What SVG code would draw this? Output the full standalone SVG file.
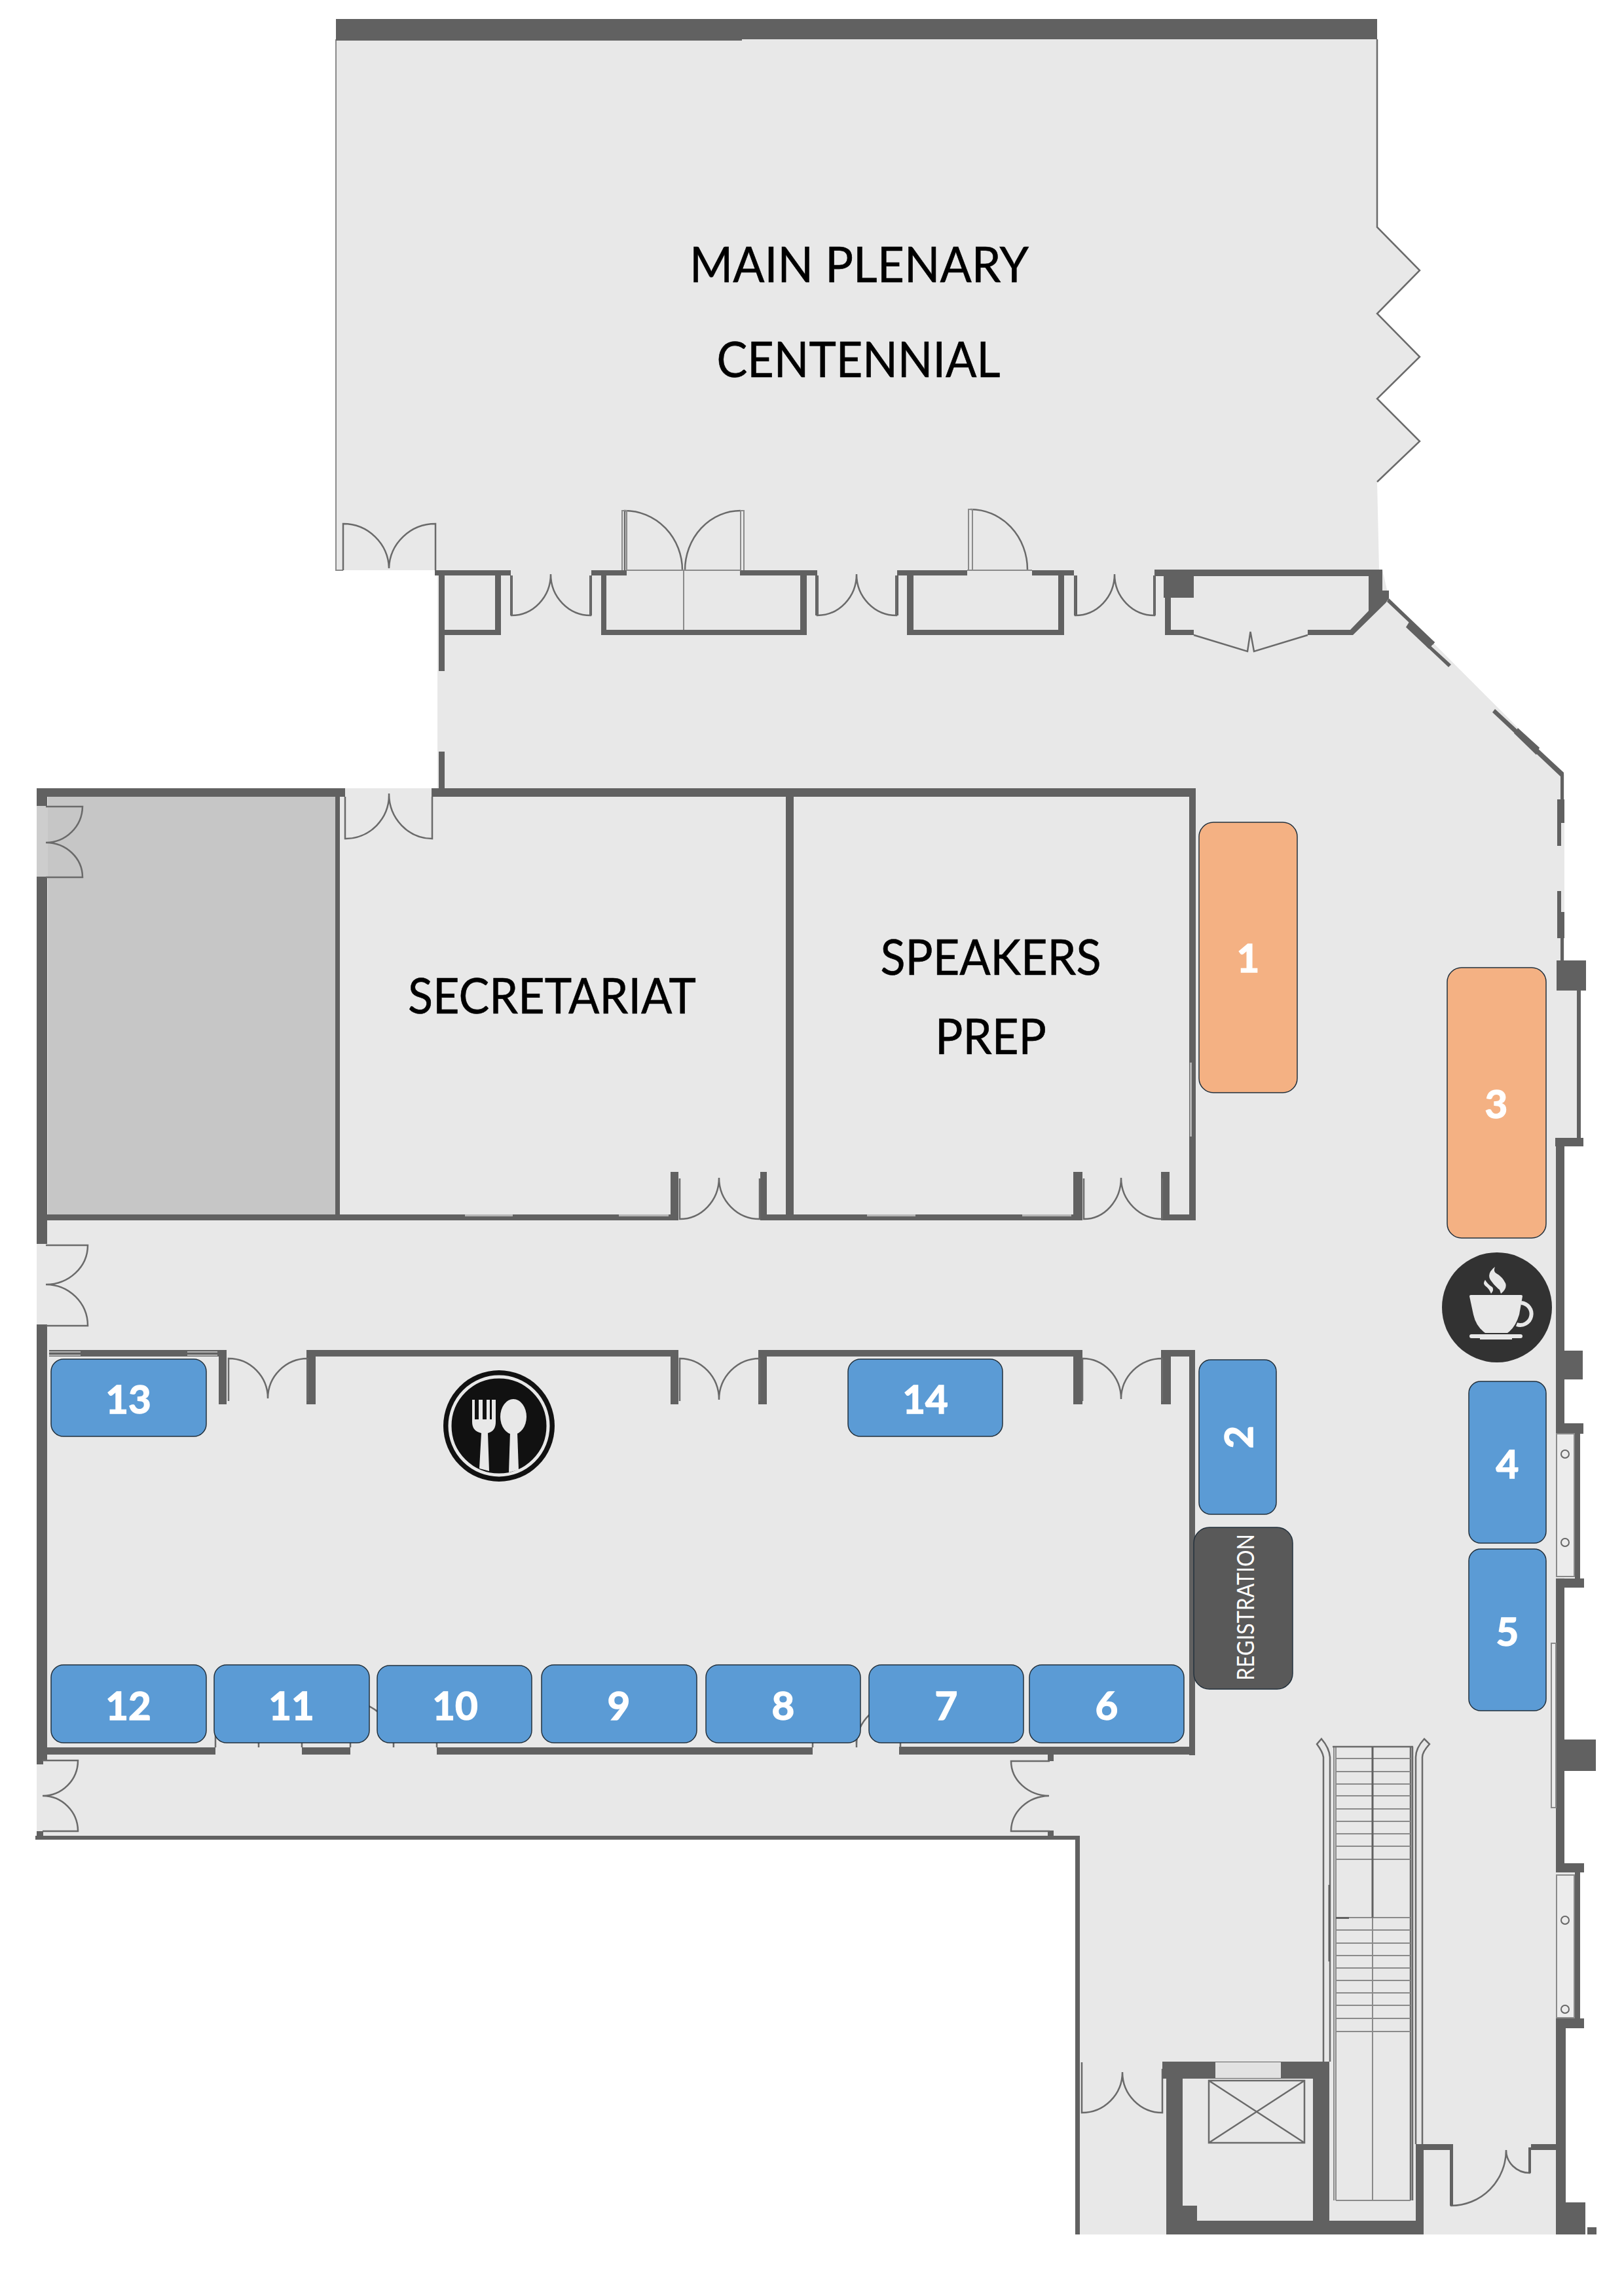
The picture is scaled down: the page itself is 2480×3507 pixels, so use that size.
<svg xmlns="http://www.w3.org/2000/svg" width="2480" height="3507" viewBox="0 0 2480 3507">
<defs>
<style>
.w{fill:#616161}
.t{fill:none;stroke:#6a6a6a;stroke-width:2.5}
.l{fill:none;stroke:#8a8a8a;stroke-width:2}
.win{fill:#b4b4b4}
.niche{fill:#ececec;stroke:#8a8a8a;stroke-width:2}
.blue{fill:#5B9BD5;stroke:#22303c;stroke-width:1.5}
.orange{fill:#F4B183;stroke:#22303c;stroke-width:1.5}
.num{font-family:"Lato","Open Sans",sans-serif;font-weight:700;font-size:60px;fill:#fff;stroke:#fff;stroke-width:1.5;text-anchor:middle}
.room{font-family:"Lato","Open Sans",sans-serif;font-size:76px;fill:#000;stroke:#000;stroke-width:.6;text-anchor:middle}
.ico{fill:#e8e8e8}
</style>
</defs>
<rect width="2480" height="3507" fill="#fff"/>
<g id="floor">
<polygon fill="#E8E8E8" points="513,31 2103,31 2103,347 2168,413 2103,479 2168,545 2103,609 2168,674 2103,736 2106,870 2111,870 2121,914 2389,1183 2389,1467 2410,1513 2410,1740 2389,1740 2389,2190 2407,2190 2407,2410 2389,2410 2389,2860 2407,2860 2407,3083 2389,3083 2389,3413 1649,3413 1649,2806 56,2806 56,1204 668,1204 668,871 513,871"/>
<rect x="73" y="1217" width="439" height="638" fill="#C6C6C6"/>
<rect x="56" y="1231" width="17" height="108" fill="#cdcdcd"/>
</g>
<g id="outline">
<path class="l" d="M513 60V871H524"/>
<polyline class="t" points="2103,60 2103,347 2168,413 2103,479 2168,545 2103,609 2168,674 2103,736"/>
</g>
<g id="walls" class="w">
<rect x="513" y="29" width="1590" height="31"/><rect x="513" y="60" width="620" height="2"/>
<rect x="664" y="871" width="116" height="8"/><rect x="670" y="879" width="9" height="146"/><rect x="670" y="1148" width="9" height="56"/>
<rect x="670" y="962" width="95" height="8"/><rect x="756" y="879" width="9" height="91"/>
<rect x="903" y="871" width="54" height="8"/><rect x="918" y="879" width="8" height="91"/><rect x="918" y="962" width="314" height="8"/>
<rect x="1222" y="879" width="10" height="91"/><rect x="1130" y="871" width="118" height="8"/>
<rect x="1370" y="871" width="107" height="8"/><rect x="1385" y="879" width="10" height="91"/><rect x="1385" y="962" width="240" height="8"/><rect x="1616" y="879" width="9" height="91"/><rect x="1576" y="871" width="64" height="8"/>
<rect x="1763" y="870" width="348" height="10"/><rect x="1777" y="880" width="46" height="33"/><rect x="1779" y="880" width="9" height="90"/><rect x="1779" y="962" width="44" height="8"/>
<rect x="1997" y="962" width="69" height="8"/>
<g transform="translate(2 0)">
<polygon points="2088,880 2109,880 2109,902 2119,902 2119,914 2114,921 2064,970 2060,962 2088,933"/>
<!-- diagonal -->
<polygon points="2119,914 2189,981 2186,985 2116,919"/>
<polygon points="2150,950 2189,981 2180,991 2145,958"/>
<polygon points="2180,984 2214,1015 2210,1019 2176,987"/>
<polygon points="2281,1083 2386,1180 2386,1186 2381,1186 2277,1088"/>
<polygon points="2316,1112 2349,1142 2344,1153 2310,1120"/>
<!-- east wall -->
<rect x="2381" y="1182" width="5" height="39"/><rect x="2376" y="1221" width="11" height="36"/><rect x="2376" y="1257" width="6" height="35"/>
<rect x="2376" y="1361" width="6" height="32"/><rect x="2376" y="1393" width="11" height="40"/><rect x="2381" y="1433" width="5" height="34"/>
<rect x="2375" y="1467" width="45" height="46"/><rect x="2406" y="1513" width="6" height="227"/><rect x="2373" y="1738" width="43" height="13"/>
<rect x="2374" y="1751" width="13" height="423"/><rect x="2387" y="2063" width="28" height="44"/><rect x="2374" y="2174" width="42" height="16"/>
<rect x="2403" y="2190" width="8" height="222"/><rect x="2374" y="2411" width="43" height="14"/><rect x="2374" y="2425" width="13" height="421"/>
<rect x="2387" y="2657" width="48" height="48"/><rect x="2374" y="2846" width="43" height="14"/><rect x="2403" y="2860" width="8" height="223"/>
<rect x="2374" y="3083" width="43" height="15"/><rect x="2374" y="3098" width="15" height="266"/><rect x="2374" y="3364" width="45" height="49"/><rect x="2422" y="3402" width="14" height="11"/>
</g>
<rect x="779" y="879" width="4" height="61"/><rect x="900" y="879" width="4" height="61"/><rect x="1245" y="879" width="5" height="61"/><rect x="1367" y="879" width="5" height="61"/><rect x="1640" y="879" width="5" height="61"/><rect x="1761" y="879" width="4" height="61"/>
<!-- west block -->
<rect x="56" y="1204" width="471" height="13"/><rect x="659" y="1204" width="1167" height="13"/>
<rect x="512" y="1217" width="7" height="638"/><rect x="56" y="1339" width="16" height="561"/><rect x="56" y="1204" width="16" height="27"/>
<rect x="56" y="1855" width="980" height="9"/><rect x="1024" y="1790" width="12" height="74"/><rect x="1161" y="1790" width="10" height="74"/><rect x="1162" y="1855" width="491" height="9"/>
<rect x="1200" y="1217" width="12" height="647"/><rect x="1639" y="1790" width="14" height="74"/><rect x="1773" y="1790" width="13" height="74"/><rect x="1773" y="1855" width="53" height="9"/><rect x="1816" y="1217" width="10" height="647"/>
<rect x="56" y="2023" width="16" height="666"/>
<rect x="75" y="2062" width="269" height="10"/><rect x="334" y="2062" width="12" height="83"/><rect x="468" y="2062" width="14" height="83"/><rect x="473" y="2062" width="561" height="10"/>
<rect x="1024" y="2062" width="12" height="83"/><rect x="1158" y="2062" width="13" height="83"/><rect x="1163" y="2062" width="486" height="10"/><rect x="1639" y="2062" width="14" height="83"/><rect x="1773" y="2062" width="15" height="83"/><rect x="1778" y="2062" width="47" height="10"/><rect x="1816" y="2062" width="9" height="619"/>
<rect x="56" y="2669" width="273" height="11"/><rect x="461" y="2669" width="74" height="11"/><rect x="667" y="2669" width="574" height="11"/><rect x="1373" y="2668" width="452" height="12"/>
<rect x="1600" y="2680" width="9" height="10"/><rect x="1600" y="2796" width="9" height="10"/><rect x="56" y="2689" width="10" height="6"/><rect x="56" y="2797" width="10" height="9"/>
<rect x="54" y="2804" width="1595" height="6"/><rect x="1642" y="2804" width="7" height="609"/>
</g>
<g id="windows" class="win">
<rect x="710" y="1855" width="73" height="3"/><rect x="945" y="1855" width="76" height="3"/><rect x="1324" y="1855" width="74" height="3"/><rect x="1561" y="1855" width="75" height="3"/>
<rect x="75" y="2064" width="48" height="2"/><rect x="75" y="2069" width="48" height="2"/><rect x="286" y="2064" width="46" height="2"/><rect x="286" y="2069" width="46" height="2"/>
<rect x="1817" y="1623" width="3" height="113"/>
</g>
<g id="doors">
<path class="t" d="M524 871V800A70 70 0 0 1 594 868M665 871V800A71 70 0 0 0 594 868"/>
<path class="t" d="M781 879V940A60 63 0 0 0 841 877M902 879V940A61 63 0 0 1 841 877"/>
<path class="t" d="M954 871V780A88 91 0 0 1 1042 871M1131 780A85 91 0 0 0 1046 871"/>
<path class="l" d="M950 871V780H957V871M1131 871V780H1136V871M957 871H1131M1044 871V962"/>
<path class="t" d="M1248 879V940A60 63 0 0 0 1308 877M1369 879V940A61 63 0 0 1 1308 877"/>
<path class="t" d="M1482 778A87 92 0 0 1 1569 870"/>
<path class="l" d="M1479 871V778H1485V871M1477 871H1576"/>
<path class="t" d="M1642 879V940A60 63 0 0 0 1702 877M1763 879V940A61 63 0 0 1 1702 877"/>
<path class="t" d="M1823 970L1905 995L1909.5 965L1915 995L1997 970"/>
<path class="t" d="M527 1217V1281A66 67 0 0 0 594 1212M660 1217V1281A66 69 0 0 1 594 1212"/>
<path class="t" d="M70 1232H126A56 56 0 0 1 70 1287M70 1340H126A56 53 0 0 0 70 1287"/>
<path class="t" d="M70 1902H134A64 60 0 0 1 70 1962M70 2025H134A64 63 0 0 0 70 1962"/>
<path class="t" d="M65 2689H119A54 54 0 0 1 65 2743M65 2797H119A54 54 0 0 0 65 2743"/>
<path class="t" d="M1603 2690H1544A59 53 0 0 0 1602 2743M1603 2797H1544A59 54 0 0 1 1602 2743"/>
<path class="t" d="M1038 1800V1862A60 63 0 0 0 1098 1799M1160 1800V1862A62 63 0 0 1 1098 1799"/>
<path class="t" d="M1655 1800V1862A57 63 0 0 0 1712 1799M1775 1800V1862A63 63 0 0 1 1712 1799"/>
<path class="t" d="M349 2140V2075A60 61 0 0 1 409 2136M470 2140V2075A61 61 0 0 0 409 2136"/>
<path class="t" d="M1038 2140V2075A60 63 0 0 1 1098 2138M1160 2140V2075A62 63 0 0 0 1098 2138"/>
<path class="t" d="M1653 2140V2075A59 62 0 0 1 1712 2137M1775 2140V2075A63 62 0 0 0 1712 2137"/>
<path class="t" d="M1652 3150V3227A62 62 0 0 0 1714 3165M1775 3160V3227A61 62 0 0 1 1714 3165"/>
<path class="t" d="M2216 3290V3369A84 85 0 0 0 2300 3284M2336 3284V3319A36 35 0 0 1 2300 3284"/>
<path class="t" d="M329 2669V2600A66 65 0 0 1 395 2665V2669M461 2669V2600A66 65 0 0 0 395 2665"/>
<path class="t" d="M535 2669V2600A66 65 0 0 1 601 2665V2669M667 2669V2600A66 65 0 0 0 601 2665"/>
<path class="t" d="M1241 2669V2600A67 65 0 0 1 1308 2665V2669M1375 2669V2600A67 65 0 0 0 1308 2665"/>
</g>
<g id="stairs-and-core">
<path class="t" d="M2021 3149V2684Q2020 2676 2011 2664L2018 2656Q2030 2670 2031 2684V3149"/>
<path class="t" d="M2172 3275V2684Q2172 2676 2183 2664L2175 2656Q2162 2670 2162 2684V3275"/>
<path class="l" d="M2037 2668V3361M2040 2668V3361"/>
<path class="t" d="M2035 2668H2158M2154 2668V3361M2157 2668V3361"/>
<path class="l" d="M2040 2686H2154M2040 2706H2154M2040 2725H2154M2040 2743H2154M2040 2763H2154M2040 2782H2154M2040 2801H2154M2040 2820H2154M2040 2840H2154M2040 2929H2154M2040 2948H2154M2040 2968H2154M2040 2987H2154M2040 3006H2154M2040 3025H2154M2040 3044H2154M2040 3063H2154M2040 3083H2154M2040 3103H2154"/>
<path d="M2096 2668V2929" fill="none" stroke="#616161" stroke-width="3"/>
<path class="l" d="M2096 2929V3361M2040 3361H2154"/>
<path d="M2030 2879V2996" fill="none" stroke="#616161" stroke-width="3"/>
<path class="w" d="M2040 2928H2060V2931H2040Z"/>
<g class="w">
<rect x="1781" y="3149" width="25" height="264"/><rect x="1775" y="3149" width="255" height="26"/><rect x="2005" y="3149" width="25" height="264"/><rect x="1781" y="3392" width="393" height="21"/><rect x="1806" y="3369" width="22" height="23"/><rect x="2162" y="3275" width="12" height="138"/><rect x="2162" y="3275" width="52" height="9"/><rect x="2214" y="3275" width="5" height="94"/><rect x="2338" y="3275" width="38" height="9"/><rect x="2334" y="3280" width="4" height="39"/>
</g>
<rect x="1856" y="3150" width="100" height="24" fill="#e2e2e2"/>
<rect x="2031" y="3363" width="131" height="29" fill="#e8e8e8"/>
<path class="t" d="M1846 3178H1992V3273H1846ZM1846 3178L1992 3273M1992 3178L1846 3273"/>
<g transform="translate(2 0)">
<rect class="niche" x="2375" y="2190" width="27" height="218"/><rect class="niche" x="2375" y="2864" width="27" height="218"/>
<rect class="niche" x="2367" y="2510" width="7" height="251"/>
<g fill="none" stroke="#666" stroke-width="2"><circle cx="2388" cy="2221" r="6"/><circle cx="2388" cy="2356" r="6"/><circle cx="2388" cy="2933" r="6"/><circle cx="2388" cy="3069" r="6"/></g>
</g>
</g>
<g id="booth-1"><rect class="orange" x="1831" y="1256" width="150" height="413" rx="22"/><text class="num" x="1906" y="1485">1</text></g>
<g id="booth-3"><rect class="orange" x="2210" y="1478" width="151" height="413" rx="22"/><text class="num" x="2285" y="1708">3</text></g>
<g id="booth-2"><rect class="blue" x="1831" y="2077" width="118" height="236" rx="18"/><text class="num" transform="translate(1892 2195) rotate(-90)" y="21">2</text></g>
<g id="booth-4"><rect class="blue" x="2243" y="2110" width="118" height="247" rx="18"/><text class="num" x="2302" y="2258">4</text></g>
<g id="booth-5"><rect class="blue" x="2243" y="2366" width="118" height="247" rx="18"/><text class="num" x="2302" y="2514">5</text></g>
<g id="booth-6"><rect class="blue" x="1572" y="2543" width="236" height="119" rx="19"/><text class="num" x="1690" y="2627">6</text></g>
<g id="booth-7"><rect class="blue" x="1327" y="2543" width="236" height="119" rx="19"/><text class="num" x="1445" y="2627">7</text></g>
<g id="booth-8"><rect class="blue" x="1078" y="2543" width="236" height="119" rx="19"/><text class="num" x="1196" y="2627">8</text></g>
<g id="booth-9"><rect class="blue" x="827" y="2543" width="237" height="119" rx="19"/><text class="num" x="945" y="2627">9</text></g>
<g id="booth-10"><rect class="blue" x="576" y="2544" width="236" height="118" rx="19"/><text class="num" x="695" y="2627">10</text></g>
<g id="booth-11"><rect class="blue" x="327" y="2543" width="237" height="119" rx="19"/><text class="num" x="445" y="2627">11</text></g>
<g id="booth-12"><rect class="blue" x="78" y="2543" width="237" height="119" rx="19"/><text class="num" x="196" y="2627">12</text></g>
<g id="booth-13"><rect class="blue" x="78" y="2076" width="237" height="118" rx="19"/><text class="num" x="196" y="2159">13</text></g>
<g id="booth-14"><rect class="blue" x="1295" y="2076" width="236" height="118" rx="19"/><text class="num" x="1413" y="2159">14</text></g>
<g id="registration"><rect x="1823" y="2333" width="151" height="247" rx="24" fill="#595959" stroke="#22303c" stroke-width="1.5"/><text transform="translate(1915 2455) rotate(-90)" font-family="Lato,'Open Sans',sans-serif" font-size="36" fill="#fff" text-anchor="middle" textLength="224" lengthAdjust="spacingAndGlyphs">REGISTRATION</text></g>
<g id="labels">
<text class="room" x="1312" y="431" textLength="518" lengthAdjust="spacingAndGlyphs">MAIN PLENARY</text>
<text class="room" x="1311" y="576" textLength="433" lengthAdjust="spacingAndGlyphs">CENTENNIAL</text>
<text class="room" x="843" y="1548" textLength="440" lengthAdjust="spacingAndGlyphs">SECRETARIAT</text>
<text class="room" x="1513" y="1489" textLength="337" lengthAdjust="spacingAndGlyphs">SPEAKERS</text>
<text class="room" x="1513" y="1610" textLength="170" lengthAdjust="spacingAndGlyphs">PREP</text>
</g>
<g id="dining-icon">
<circle cx="762" cy="2178" r="85" fill="#111"/>
<circle cx="762" cy="2178" r="75" fill="none" stroke="#e8e8e8" stroke-width="5"/>
<path class="ico" d="M721 2138H725V2168H731V2138H737V2168H743V2138H748V2168H751V2138H757V2172Q757 2186 745 2189L747 2247L732 2243L735 2189Q721 2186 721 2172Z"/>
<ellipse class="ico" cx="784" cy="2164" rx="20" ry="27"/>
<path class="ico" d="M779 2188H790L792 2245L777 2249Z"/>
</g>
<g id="coffee-icon">
<circle cx="2286" cy="1997" r="84" fill="#323232"/>
<path class="ico" d="M2246 1978H2323Q2325 1978 2325 1980L2320 2008Q2314 2028 2302 2036H2268Q2254 2026 2250 2008L2244 1980Q2244 1978 2246 1978Z"/>
<path d="M2323 1990A17 17 0 1 1 2316 2023" fill="none" stroke="#e8e8e8" stroke-width="6"/>
<rect class="ico" x="2244" y="2038" width="81" height="6" rx="3"/>
<rect class="ico" x="2260" y="2043" width="49" height="3"/>
<path class="ico" d="M2283 1935Q2270 1945 2276 1955Q2282 1964 2290 1970L2292 1976Q2302 1968 2299 1960Q2294 1950 2285 1945Q2280 1942 2283 1935Z"/>
<path class="ico" d="M2268 1955Q2264 1960 2268 1964Q2274 1968 2277 1976Q2282 1970 2279 1966Q2272 1962 2268 1955Z"/>
</g>
</svg>
